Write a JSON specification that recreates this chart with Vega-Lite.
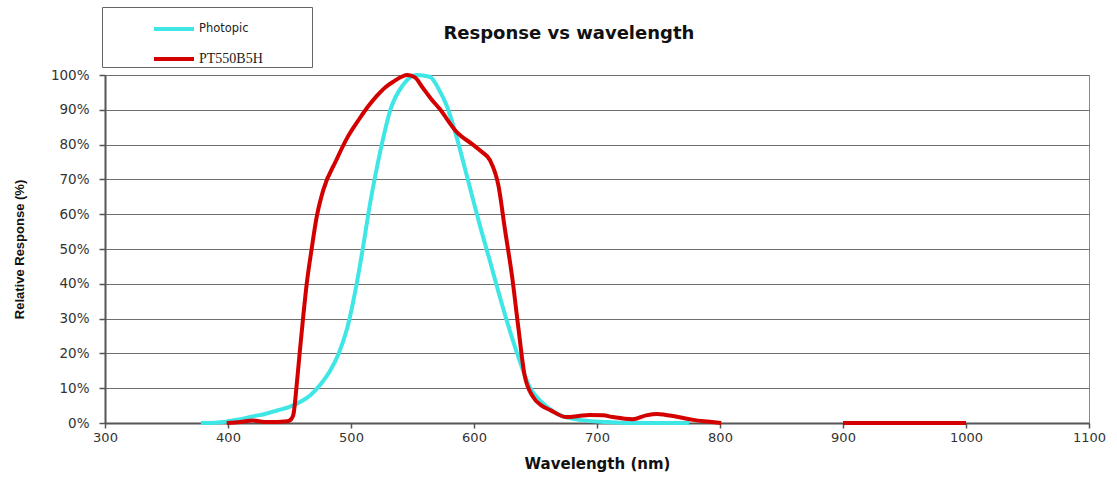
{
  "$schema": "https://vega.github.io/schema/vega-lite/v6.json",
  "autosize": "none",
  "width": 984,
  "height": 348,
  "padding": {"left": 105, "top": 75, "right": 28, "bottom": 54},
  "background": "white",
  "config": {
    "view": {"stroke": "#888", "strokeWidth": 1},
    "font": "Liberation Sans"
  },
  "title": {
    "text": "Response vs wavelength",
    "anchor": "start",
    "dx": 430,
    "offset": -36,
    "fontSize": 18,
    "fontWeight": "bold",
    "font": "DejaVu Sans",
    "color": "#111"
  },
  "datasets": {
    "curves": [
      {"series": "Photopic", "seg": "a", "wl": 378, "r": 0},
      {"series": "Photopic", "seg": "a", "wl": 390, "r": 0.1},
      {"series": "Photopic", "seg": "a", "wl": 400, "r": 0.5},
      {"series": "Photopic", "seg": "a", "wl": 410, "r": 1.1},
      {"series": "Photopic", "seg": "a", "wl": 420, "r": 1.9},
      {"series": "Photopic", "seg": "a", "wl": 430, "r": 2.6},
      {"series": "Photopic", "seg": "a", "wl": 440, "r": 3.6},
      {"series": "Photopic", "seg": "a", "wl": 450, "r": 4.6},
      {"series": "Photopic", "seg": "a", "wl": 460, "r": 6.3},
      {"series": "Photopic", "seg": "a", "wl": 467, "r": 8},
      {"series": "Photopic", "seg": "a", "wl": 475, "r": 11},
      {"series": "Photopic", "seg": "a", "wl": 483, "r": 15},
      {"series": "Photopic", "seg": "a", "wl": 490, "r": 20},
      {"series": "Photopic", "seg": "a", "wl": 496.5, "r": 26.7},
      {"series": "Photopic", "seg": "a", "wl": 504.6, "r": 40},
      {"series": "Photopic", "seg": "a", "wl": 510, "r": 51},
      {"series": "Photopic", "seg": "a", "wl": 515, "r": 62},
      {"series": "Photopic", "seg": "a", "wl": 520, "r": 71.5},
      {"series": "Photopic", "seg": "a", "wl": 525, "r": 80},
      {"series": "Photopic", "seg": "a", "wl": 532, "r": 90},
      {"series": "Photopic", "seg": "a", "wl": 542, "r": 97},
      {"series": "Photopic", "seg": "a", "wl": 553, "r": 100},
      {"series": "Photopic", "seg": "a", "wl": 564, "r": 99.5},
      {"series": "Photopic", "seg": "a", "wl": 572, "r": 95.5},
      {"series": "Photopic", "seg": "a", "wl": 578, "r": 91},
      {"series": "Photopic", "seg": "a", "wl": 586, "r": 82},
      {"series": "Photopic", "seg": "a", "wl": 592, "r": 74},
      {"series": "Photopic", "seg": "a", "wl": 599, "r": 64.5},
      {"series": "Photopic", "seg": "a", "wl": 605, "r": 56.5},
      {"series": "Photopic", "seg": "a", "wl": 613, "r": 46.5},
      {"series": "Photopic", "seg": "a", "wl": 620, "r": 37.5},
      {"series": "Photopic", "seg": "a", "wl": 627, "r": 29},
      {"series": "Photopic", "seg": "a", "wl": 637, "r": 18},
      {"series": "Photopic", "seg": "a", "wl": 645, "r": 10.5},
      {"series": "Photopic", "seg": "a", "wl": 656, "r": 5.7},
      {"series": "Photopic", "seg": "a", "wl": 670, "r": 2.3},
      {"series": "Photopic", "seg": "a", "wl": 686, "r": 0.9},
      {"series": "Photopic", "seg": "a", "wl": 708, "r": 0.3},
      {"series": "Photopic", "seg": "a", "wl": 730, "r": 0},
      {"series": "Photopic", "seg": "a", "wl": 775, "r": 0},
      {"series": "PT550B5H", "seg": "a", "wl": 399, "r": 0},
      {"series": "PT550B5H", "seg": "a", "wl": 410, "r": 0.3},
      {"series": "PT550B5H", "seg": "a", "wl": 420, "r": 0.7},
      {"series": "PT550B5H", "seg": "a", "wl": 430, "r": 0.3},
      {"series": "PT550B5H", "seg": "a", "wl": 440, "r": 0.3},
      {"series": "PT550B5H", "seg": "a", "wl": 446, "r": 0.4},
      {"series": "PT550B5H", "seg": "a", "wl": 450, "r": 0.7},
      {"series": "PT550B5H", "seg": "a", "wl": 453, "r": 2.2},
      {"series": "PT550B5H", "seg": "a", "wl": 456, "r": 11.5},
      {"series": "PT550B5H", "seg": "a", "wl": 458.5, "r": 21},
      {"series": "PT550B5H", "seg": "a", "wl": 461, "r": 30},
      {"series": "PT550B5H", "seg": "a", "wl": 464, "r": 40},
      {"series": "PT550B5H", "seg": "a", "wl": 468, "r": 50},
      {"series": "PT550B5H", "seg": "a", "wl": 472, "r": 59},
      {"series": "PT550B5H", "seg": "a", "wl": 477.5, "r": 67},
      {"series": "PT550B5H", "seg": "a", "wl": 488, "r": 75.5},
      {"series": "PT550B5H", "seg": "a", "wl": 497, "r": 82},
      {"series": "PT550B5H", "seg": "a", "wl": 507, "r": 87.5},
      {"series": "PT550B5H", "seg": "a", "wl": 514, "r": 91},
      {"series": "PT550B5H", "seg": "a", "wl": 521, "r": 94},
      {"series": "PT550B5H", "seg": "a", "wl": 528, "r": 96.5},
      {"series": "PT550B5H", "seg": "a", "wl": 534, "r": 98},
      {"series": "PT550B5H", "seg": "a", "wl": 546, "r": 100},
      {"series": "PT550B5H", "seg": "a", "wl": 552, "r": 99.3},
      {"series": "PT550B5H", "seg": "a", "wl": 558, "r": 96.5},
      {"series": "PT550B5H", "seg": "a", "wl": 565, "r": 93.2},
      {"series": "PT550B5H", "seg": "a", "wl": 572, "r": 90.3},
      {"series": "PT550B5H", "seg": "a", "wl": 586, "r": 83.6},
      {"series": "PT550B5H", "seg": "a", "wl": 599, "r": 80},
      {"series": "PT550B5H", "seg": "a", "wl": 606, "r": 78},
      {"series": "PT550B5H", "seg": "a", "wl": 613, "r": 75.5},
      {"series": "PT550B5H", "seg": "a", "wl": 620, "r": 68},
      {"series": "PT550B5H", "seg": "a", "wl": 625, "r": 56},
      {"series": "PT550B5H", "seg": "a", "wl": 631, "r": 42},
      {"series": "PT550B5H", "seg": "a", "wl": 636, "r": 27.6},
      {"series": "PT550B5H", "seg": "a", "wl": 641, "r": 14},
      {"series": "PT550B5H", "seg": "a", "wl": 648, "r": 7.5},
      {"series": "PT550B5H", "seg": "a", "wl": 655, "r": 5},
      {"series": "PT550B5H", "seg": "a", "wl": 662, "r": 3.7},
      {"series": "PT550B5H", "seg": "a", "wl": 675, "r": 1.7},
      {"series": "PT550B5H", "seg": "a", "wl": 685, "r": 2},
      {"series": "PT550B5H", "seg": "a", "wl": 694, "r": 2.3},
      {"series": "PT550B5H", "seg": "a", "wl": 705, "r": 2.2},
      {"series": "PT550B5H", "seg": "a", "wl": 713, "r": 1.7},
      {"series": "PT550B5H", "seg": "a", "wl": 729, "r": 1.1},
      {"series": "PT550B5H", "seg": "a", "wl": 740, "r": 2.2},
      {"series": "PT550B5H", "seg": "a", "wl": 749, "r": 2.6},
      {"series": "PT550B5H", "seg": "a", "wl": 755, "r": 2.4},
      {"series": "PT550B5H", "seg": "a", "wl": 762, "r": 2},
      {"series": "PT550B5H", "seg": "a", "wl": 778, "r": 0.9},
      {"series": "PT550B5H", "seg": "a", "wl": 790, "r": 0.4},
      {"series": "PT550B5H", "seg": "a", "wl": 801, "r": 0},
      {"series": "PT550B5H", "seg": "b", "wl": 900, "r": 0},
      {"series": "PT550B5H", "seg": "b", "wl": 1000, "r": 0}
    ]
  },
  "data": {"name": "curves"},
  "mark": {"type": "line", "strokeWidth": 4, "interpolate": "monotone", "clip": false},
  "encoding": {
    "x": {
      "field": "wl",
      "type": "quantitative",
      "scale": {"domain": [300, 1100], "nice": false, "zero": false},
      "axis": {
        "title": "Wavelength (nm)",
        "values": [300, 400, 500, 600, 700, 800, 900, 1000, 1100],
        "format": "d",
        "grid": false,
        "domainColor": "#555",
        "domainWidth": 2,
        "tickColor": "#555",
        "tickSize": 5,
        "tickWidth": 1.5,
        "labelFont": "DejaVu Sans",
        "labelFontSize": 13,
        "labelColor": "#333",
        "labelPadding": 3,
        "titleFont": "DejaVu Sans",
        "titleFontSize": 15,
        "titleFontWeight": "bold",
        "titleColor": "#111",
        "titlePadding": 12,
        "labelFlush": false
      }
    },
    "y": {
      "field": "r",
      "type": "quantitative",
      "scale": {"domain": [0, 100], "nice": false},
      "axis": {
        "title": "Relative Response (%)",
        "values": [0, 10, 20, 30, 40, 50, 60, 70, 80, 90, 100],
        "labelExpr": "datum.value + '%'",
        "grid": true,
        "gridColor": "#6f6f6f",
        "gridWidth": 1,
        "domainColor": "#555",
        "domainWidth": 2,
        "tickColor": "#555",
        "tickSize": 6,
        "tickWidth": 1.5,
        "labelFont": "DejaVu Sans",
        "labelFontSize": 13.5,
        "labelColor": "#333",
        "labelPadding": 10,
        "titleFontSize": 13,
        "titleFontWeight": "bold",
        "titleColor": "#111",
        "titlePadding": 24
      }
    },
    "color": {
      "field": "series",
      "type": "nominal",
      "scale": {"domain": ["Photopic", "PT550B5H"], "range": ["#3fe6e6", "#d40000"]},
      "legend": {
        "title": null,
        "orient": "none",
        "legendX": -3,
        "legendY": -68,
        "direction": "vertical",
        "symbolType": "stroke",
        "symbolSize": 1600,
        "symbolStrokeWidth": 4,
        "symbolOffset": 50,
        "padding": 0,
        "rowPadding": -10,
        "labelOffset": 3,
        "labelExpr": "datum.label + '\u00a0\u00a0\u00a0\u00a0\u00a0\u00a0\u00a0\u00a0\u00a0\u00a0\u00a0\u2800'",
        "labelLimit": 400,
        "labelFont": {"expr": "datum.label == 'PT550B5H' ? 'Liberation Serif' : 'DejaVu Sans'"},
        "labelFontSize": {"expr": "datum.label == 'PT550B5H' ? 14 : 11.5"},
        "labelColor": "#222",
        "strokeColor": "#666",
        "fillColor": "white"
      }
    },
    "detail": {"field": "seg", "type": "nominal"}
  }
}
